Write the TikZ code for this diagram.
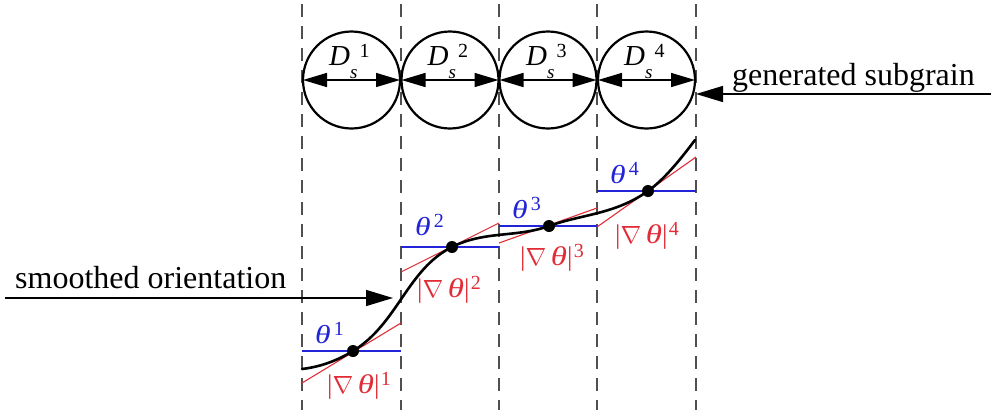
\documentclass[tikz,border=0pt]{standalone}
\usepackage{fontspec}
\setmainfont{Liberation Serif}
\usetikzlibrary{arrows.meta}
\definecolor{dashgrey}{RGB}{80,80,80}
\definecolor{tblue}{RGB}{35,35,215}
\definecolor{tred}{RGB}{225,45,55}
\newcommand\mythe{\scalebox{1.22}[1]{\textit{θ}}}
\newcommand\mysup[1]{\raisebox{8pt}{\fontsize{20}{20}\selectfont #1}}
\newcommand\mygrad[1]{|$\nabla$\,\mythe|\hspace{1.5pt}\mysup{#1}}
\newcommand\myds[1]{\textit{D}\raisebox{-13pt}{\fontsize{19}{19}\selectfont\textit{s}}\hspace{2pt}\mysup{#1}}
\begin{document}
\begin{tikzpicture}[x=1pt,y=-1pt,
  gridline/.style={draw=dashgrey, line width=1.4pt, dash pattern=on 13pt off 9pt},
  grain/.style={draw, circle, line width=2.2pt, minimum size=97pt, inner sep=0pt, outer sep=0pt},
  diam/.style={line width=1.5pt, {Triangle[length=24pt,width=14pt]}-{Triangle[length=24pt,width=14pt]}},
  pointer/.style={line width=1.4pt, draw=black, -{Triangle[length=27pt,width=16pt]}},
  dlab/.style={inner sep=0pt, anchor=base west, font=\fontsize{29}{32}\selectfont},
  thlab/.style={inner sep=0pt, anchor=base west, text=tblue, font=\fontsize{26}{30}\selectfont},
  gradlab/.style={inner sep=0pt, anchor=base west, text=tred, font=\fontsize{27}{30}\selectfont},
  txt/.style={inner sep=0pt, font=\fontsize{32}{36}\selectfont},
  curve/.style={line width=2.6pt, line cap=round},
  level/.style={draw=tblue, line width=1.1pt},
  tangent/.style={draw=tred, line width=1.1pt},
  dotnode/.style={circle, fill=black, minimum size=12pt, inner sep=0pt}]
\useasboundingbox (0,0) rectangle (991,410);
% dashed boundaries
\foreach \xx in {302,401,499,597,696}
  \draw[gridline] (\xx,4) -- (\xx,410);
% subgrains
\node[grain] (g1) at (351.5,80) {};
\node[grain] (g2) at (450,80) {};
\node[grain] (g3) at (548,80) {};
\node[grain] (g4) at (646.5,80) {};
\foreach \i in {1,2,3,4}
  \draw[diam] (g\i.west) -- (g\i.east);
\node[dlab] (d1) at (329,65) {\myds{1}};
\node[dlab] (d2) at (427.5,65) {\myds{2}};
\node[dlab] (d3) at (526,65) {\myds{3}};
\node[dlab] (d4) at (624,65) {\myds{4}};
% level lines and tangents
\draw[level] (302,351) -- (401,351);
\draw[level] (401,247) -- (499,247);
\draw[level] (499,226) -- (597,226);
\draw[level] (597,191) -- (696,191);
\draw[tangent] (302,383) -- (401,323);
\draw[tangent] (401,272) -- (499,223);
\draw[tangent] (499,243) -- (597,208);
\draw[tangent] (597,227) -- (696,157);
% curve
\draw[curve] (302,369) .. controls (319,367) and (336,361.4) .. (353,351)
  .. controls (398,323.5) and (407,269.5) .. (452,247)
  .. controls (485,230.5) and (516,237.8) .. (549,226)
  .. controls (582,214.2) and (615,214.4) .. (648,191)
  .. controls (664,179.6) and (680,160) .. (695,140);
\node[dotnode] (p1) at (353,351) {};
\node[dotnode] (p2) at (452,247) {};
\node[dotnode] (p3) at (549,226) {};
\node[dotnode] (p4) at (648,191) {};
% labels
\node[thlab] (t1) at (315,343) {\mythe\hspace{3pt}\mysup{1}};
\node[thlab] (t2) at (415,235) {\mythe\hspace{3pt}\mysup{2}};
\node[thlab] (t3) at (512,218) {\mythe\hspace{3pt}\mysup{3}};
\node[thlab] (t4) at (610,183) {\mythe\hspace{3pt}\mysup{4}};
\node[gradlab] (r1) at (327,393) {\mygrad{1}};
\node[gradlab] (r2) at (417,297) {\mygrad{2}};
\node[gradlab] (r3) at (520,265) {\mygrad{3}};
\node[gradlab] (r4) at (615,243) {\mygrad{4}};
% pointers
\node[txt, anchor=base east] (gs) at (975,85) {generated subgrain};
\node[txt, anchor=base west] (so) at (15,288) {smoothed orientation};
\coordinate (gsfrom) at (991,94);
\coordinate (gsto) at (696,94);
\coordinate (sofrom) at (5,298);
\coordinate (soto) at (393,298);
\draw[pointer] (gsfrom) -- (gsto);
\draw[pointer] (sofrom) -- (soto);
\end{tikzpicture}
\end{document}
